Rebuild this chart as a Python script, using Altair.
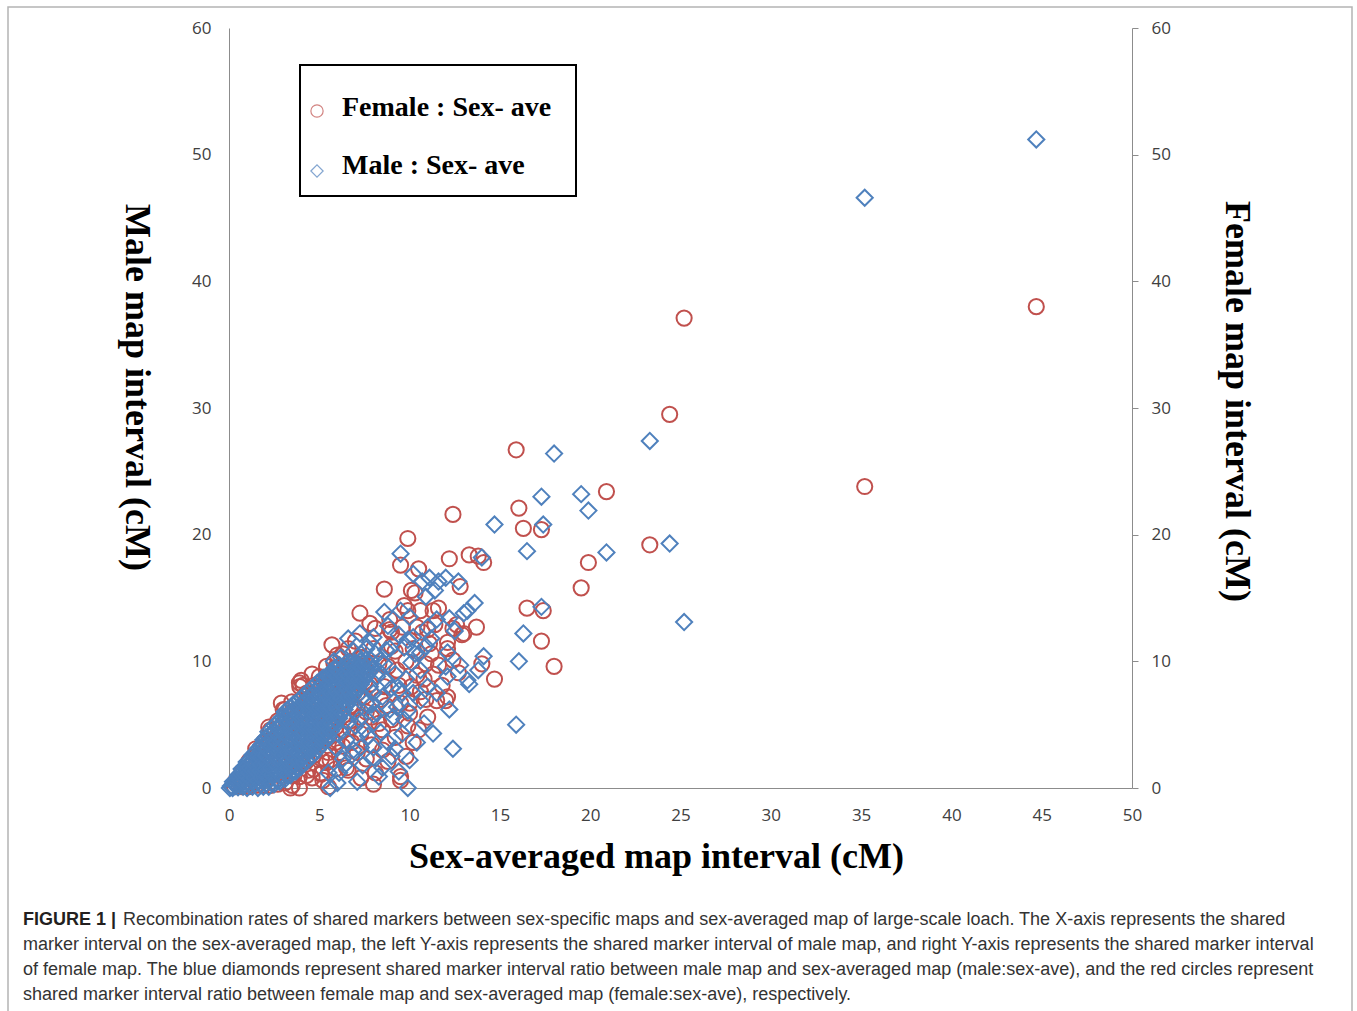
import altair as alt
import pandas as pd

# ---------------- data ----------------
x_ticks = [0, 5, 10, 15, 20, 25, 30, 35, 40, 45, 50]
y_ticks = [0, 10, 20, 30, 40, 50, 60]

series_names = ["Female : Sex- ave", "Male : Sex- ave"]

# Female : Sex-ave  (sex-averaged interval, female interval) - dense core
female_core = [
    (0.3, 0.1), (0.35, 0.5), (0.7, 0.1), (0.68, 0.7), (0.72, 1.3), (1.1, 0.1), (1.08, 0.8), (1.12, 1.5),
    (1.1, 2.1), (1.5, 0.2), (1.48, 0.9), (1.52, 1.7), (1.5, 2.5), (1.48, 3.1), (1.9, 0.2), (1.92, 1.0),
    (1.88, 1.9), (1.9, 2.8), (1.92, 3.6), (2.3, 0.2), (2.28, 1.1), (2.32, 2.0), (2.3, 2.9), (2.28, 3.8),
    (2.3, 4.6), (2.7, 0.3), (2.72, 1.2), (2.68, 2.2), (2.7, 3.2), (2.72, 4.2), (2.7, 5.3), (3.1, 0.4),
    (3.08, 1.4), (3.12, 2.4), (3.1, 3.4), (3.08, 4.4), (3.12, 5.4), (3.1, 6.2), (3.5, 0.2), (3.48, 1.0),
    (3.52, 2.0), (3.5, 3.0), (3.48, 4.0), (3.52, 5.0), (3.5, 6.0), (3.48, 6.8), (3.9, 0.9), (3.92, 1.9),
    (3.88, 2.9), (3.9, 3.9), (3.92, 4.9), (3.88, 5.9), (3.9, 6.9), (3.92, 8.0), (4.3, 1.0), (4.28, 2.1),
    (4.32, 3.2), (4.3, 4.3), (4.28, 5.4), (4.32, 6.5), (4.3, 7.5), (4.7, 1.5), (4.72, 2.6), (4.68, 3.7),
    (4.7, 4.8), (4.72, 5.9), (4.68, 7.0), (4.7, 8.1), (5.1, 1.1), (5.12, 2.3), (5.08, 3.5), (5.1, 4.7),
    (5.12, 5.9), (5.08, 7.1), (5.1, 8.3), (5.5, 2.8), (5.52, 4.0), (5.48, 5.2), (5.5, 6.4), (5.52, 7.6),
    (5.48, 8.8), (5.9, 3.6), (5.92, 4.8), (5.88, 6.0), (5.9, 7.2), (5.92, 8.4), (5.88, 9.5), (6.3, 4.5),
    (6.32, 5.7), (6.28, 6.9), (6.3, 8.1), (6.32, 9.2), (6.7, 5.3), (6.72, 6.5), (6.68, 7.7), (6.7, 8.9),
    (6.72, 10.0), (7.1, 6.3), (7.12, 7.5), (7.08, 8.7), (7.1, 9.8), (7.5, 7.2), (7.52, 8.4), (7.48, 9.6),
]
# Female : Sex-ave - spread and outliers
female_spread = [
    (44.7, 38.0), (35.2, 23.8), (25.2, 37.1), (24.4, 29.5), (23.3, 19.2), (20.9, 23.4), (19.9, 17.8),
    (19.5, 15.8), (18.0, 9.6), (17.3, 11.6), (17.4, 14.0), (17.3, 20.4), (15.9, 26.7), (16.05, 22.1),
    (16.3, 20.5), (16.5, 14.2), (14.7, 8.6), (12.4, 21.6), (12.2, 18.1), (13.3, 18.4), (13.8, 18.3),
    (14.1, 17.8), (14.0, 9.8), (13.7, 12.7), (13.0, 12.2), (12.8, 15.9), (12.7, 9.1), (9.9, 19.7),
    (9.5, 17.6), (10.5, 17.3), (8.6, 15.7), (10.1, 15.6), (10.3, 15.4), (9.7, 14.4), (9.9, 14.0),
    (10.6, 14.0), (11.3, 14.0), (11.6, 14.2), (12.4, 12.6), (12.6, 12.9), (11.4, 12.9), (10.7, 12.3),
    (12.1, 11.5), (12.9, 12.1), (8.9, 12.5), (7.25, 13.8), (5.7, 11.3), (6.3, 10.6), (8.1, 12.6),
    (9.0, 12.3), (9.6, 12.7), (10.4, 12.7), (11.1, 11.4), (12.1, 11.0), (12.4, 10.1), (11.8, 8.1),
    (11.5, 6.9), (12.0, 6.9), (12.1, 7.2), (10.4, 8.9), (10.0, 6.7), (10.2, 3.6), (11.0, 5.6), (8.5, 3.0),
    (9.5, 0.6), (9.5, 0.9), (6.5, 1.6), (6.6, 1.4), (7.1, 2.8), (5.4, 2.0), (4.6, 0.8), (3.4, 0.0),
    (3.9, 0.0), (7.3, 4.3), (8.5, 4.6), (9.5, 6.7), (8.6, 8.0), (7.3, 10.3), (7.6, 6.0), (6.9, 6.4),
    (5.8, 8.1), (5.0, 8.8), (4.1, 8.1), (3.0, 6.2), (3.9, 8.3), (4.0, 8.5), (2.9, 6.7), (2.2, 4.8),
    (5.1, 1.2), (5.5, 0.1), (5.8, 9.9), (7.4, 10.3), (9.3, 9.3), (8.3, 5.1), (7.3, 5.6), (6.1, 2.8),
    (5.6, 2.2), (10.0, 5.9), (11.0, 12.5), (6.8, 9.0), (7.8, 8.2), (8.0, 11.0), (8.8, 9.6), (9.2, 10.8),
    (7.0, 11.6), (6.2, 7.4), (8.4, 7.0), (9.8, 10.0), (10.9, 9.8), (11.2, 10.6), (9.0, 5.4), (7.9, 3.4),
    (6.8, 3.6), (10.6, 7.6), (11.3, 9.0),
    (5.2, 0.6), (5.9, 1.5), (6.3, 3.3), (6.7, 4.7), (7.6, 2.3), (8.1, 1.2), (8.8, 2.1), (9.2, 4.0),
    (9.9, 4.9), (10.5, 4.6), (7.9, 5.6), (8.7, 6.5), (9.4, 8.1), (10.1, 8.0), (10.8, 8.6), (7.1, 7.9),
    (7.6, 9.1), (8.3, 9.8), (9.0, 11.2), (6.6, 11.0), (6.0, 10.5), (5.4, 9.6), (4.6, 9.0), (6.5, 9.4),
    (8.9, 13.3), (7.8, 13.0), (10.2, 11.0), (11.6, 9.7), (10.9, 7.0), (6.0, 5.6), (5.3, 3.9), (4.4, 1.4),
    (3.6, 1.0), (7.3, 0.8), (8.0, 0.3), (9.8, 2.5),
]

# Male : Sex-ave  (sex-averaged interval, male interval) - dense core
male_core = [
    (0.05, 0.0), (0.1, 0.15),
    (0.2, 0.0), (0.28, 0.3), (0.22, 0.5),
    (0.5, 0.05), (0.45, 0.4), (0.55, 0.75), (0.5, 1.0),
    (0.78, 0.1), (0.72, 0.5), (0.8, 0.9), (0.75, 1.25), (0.7, 1.5),
    (1.0, 0.0), (1.05, 0.45), (0.95, 0.95), (1.02, 1.4), (1.0, 1.8), (0.98, 2.05),
    (1.3, 0.1), (1.25, 0.6), (1.35, 1.1), (1.28, 1.6), (1.32, 2.1), (1.3, 2.6),
    (1.6, 0.0), (1.65, 0.5), (1.55, 1.05), (1.62, 1.6), (1.58, 2.1), (1.6, 2.65), (1.62, 3.15),
    (1.9, 0.1), (1.85, 0.6), (1.95, 1.2), (1.88, 1.7), (1.92, 2.3), (1.9, 2.8), (1.86, 3.3), (1.9, 3.8),
    (2.2, 0.1), (2.25, 0.7), (2.15, 1.3), (2.22, 1.9), (2.18, 2.45), (2.2, 3.0), (2.24, 3.6), (2.2, 4.1), (2.18, 4.45),
    (2.5, 0.3), (2.45, 0.9), (2.55, 1.5), (2.48, 2.1), (2.52, 2.7), (2.5, 3.3), (2.46, 3.9), (2.52, 4.45), (2.5, 4.95),
    (2.8, 0.5), (2.85, 1.1), (2.75, 1.7), (2.82, 2.3), (2.78, 2.9), (2.8, 3.5), (2.84, 4.1), (2.78, 4.7), (2.8, 5.3),
    (3.1, 0.7), (3.05, 1.3), (3.15, 1.9), (3.08, 2.5), (3.12, 3.1), (3.1, 3.7), (3.06, 4.3), (3.12, 4.9), (3.1, 5.5), (3.08, 6.0),
    (3.4, 1.0), (3.45, 1.6), (3.35, 2.2), (3.42, 2.8), (3.38, 3.4), (3.4, 4.0), (3.44, 4.6), (3.38, 5.2), (3.4, 5.8), (3.42, 6.4),
    (3.7, 1.3), (3.65, 1.9), (3.75, 2.5), (3.68, 3.1), (3.72, 3.7), (3.7, 4.3), (3.66, 4.9), (3.72, 5.5), (3.7, 6.1), (3.68, 6.7),
    (4.0, 1.7), (4.05, 2.3), (3.95, 2.9), (4.02, 3.5), (3.98, 4.1), (4.0, 4.7), (4.04, 5.3), (3.98, 5.9), (4.0, 6.5), (4.02, 7.1),
    (4.3, 2.1), (4.25, 2.7), (4.35, 3.3), (4.28, 3.9), (4.32, 4.5), (4.3, 5.1), (4.26, 5.7), (4.32, 6.3), (4.3, 6.9), (4.28, 7.5),
    (4.6, 2.5), (4.65, 3.1), (4.55, 3.7), (4.62, 4.3), (4.58, 4.9), (4.6, 5.5), (4.64, 6.1), (4.58, 6.7), (4.6, 7.3), (4.62, 7.9),
    (4.9, 3.0), (4.85, 3.6), (4.95, 4.2), (4.88, 4.8), (4.92, 5.4), (4.9, 6.0), (4.86, 6.6), (4.92, 7.2), (4.9, 7.8), (4.88, 8.3),
    (5.2, 3.5), (5.25, 4.1), (5.15, 4.7), (5.22, 5.3), (5.18, 5.9), (5.2, 6.5), (5.24, 7.1), (5.18, 7.7), (5.2, 8.3), (5.22, 8.7),
    (5.5, 4.1), (5.45, 4.7), (5.55, 5.3), (5.48, 5.9), (5.52, 6.5), (5.5, 7.1), (5.46, 7.7), (5.52, 8.3), (5.5, 8.9),
    (5.8, 4.8), (5.85, 5.4), (5.75, 6.0), (5.82, 6.6), (5.78, 7.2), (5.8, 7.8), (5.84, 8.4), (5.78, 9.0), (5.8, 9.4),
    (6.1, 5.5), (6.05, 6.1), (6.15, 6.7), (6.08, 7.3), (6.12, 7.9), (6.1, 8.5), (6.06, 9.1), (6.12, 9.7),
    (6.4, 6.2), (6.45, 6.8), (6.35, 7.4), (6.42, 8.0), (6.38, 8.6), (6.4, 9.2), (6.44, 9.8),
    (6.7, 6.9), (6.65, 7.5), (6.75, 8.1), (6.68, 8.7), (6.72, 9.3), (6.7, 9.9),
    (7.0, 7.5), (7.05, 8.1), (6.95, 8.7), (7.02, 9.3), (6.98, 9.9),
    (7.3, 8.2), (7.25, 8.8), (7.35, 9.4), (7.28, 10.0),
    (7.6, 8.8), (7.65, 9.5), (7.55, 10.1),
    (7.9, 9.4), (7.85, 10.1),
]
# Male : Sex-ave - more of the dense core, between the points above
male_core_b = [
    (0.18, 0.1), (0.38, 0.15), (0.4, 0.6), (0.62, 0.2), (0.62, 0.6), (0.65, 1.1), (0.88, 0.3), (0.9, 0.7),
    (0.86, 1.1), (0.9, 1.6), (1.15, 0.2), (1.18, 0.75), (1.12, 1.2), (1.16, 1.6), (1.15, 2.2), (1.45, 0.35),
    (1.42, 0.85), (1.48, 1.35), (1.44, 1.85), (1.46, 2.35), (1.45, 2.8), (1.75, 0.3), (1.78, 0.8), (1.72, 1.35),
    (1.76, 1.85), (1.74, 2.4), (1.75, 2.9), (1.78, 3.4), (2.05, 0.35), (2.08, 0.9), (2.02, 1.45), (2.06, 2.0),
    (2.04, 2.55), (2.05, 3.05), (2.08, 3.55), (2.04, 4.0), (2.35, 0.4), (2.38, 1.0), (2.32, 1.6), (2.36, 2.2),
    (2.34, 2.75), (2.35, 3.3), (2.38, 3.85), (2.34, 4.35), (2.65, 0.6), (2.68, 1.2), (2.62, 1.8), (2.66, 2.4),
    (2.64, 3.0), (2.65, 3.6), (2.68, 4.2), (2.64, 4.75), (2.66, 5.1), (2.95, 0.8), (2.98, 1.4), (2.92, 2.0),
    (2.96, 2.6), (2.94, 3.2), (2.95, 3.8), (2.98, 4.4), (2.94, 5.0), (2.96, 5.6), (3.25, 1.0), (3.28, 1.6),
    (3.22, 2.2), (3.26, 2.8), (3.24, 3.4), (3.25, 4.0), (3.28, 4.6), (3.24, 5.2), (3.26, 5.8), (3.25, 6.2),
    (3.55, 1.3), (3.58, 1.9), (3.52, 2.5), (3.56, 3.1), (3.54, 3.7), (3.55, 4.3), (3.58, 4.9), (3.54, 5.5),
    (3.56, 6.1), (3.55, 6.6), (3.85, 1.6), (3.88, 2.2), (3.82, 2.8), (3.86, 3.4), (3.84, 4.0), (3.85, 4.6),
    (3.88, 5.2), (3.84, 5.8), (3.86, 6.4), (3.85, 6.9), (4.15, 2.0), (4.18, 2.6), (4.12, 3.2), (4.16, 3.8),
    (4.14, 4.4), (4.15, 5.0), (4.18, 5.6), (4.14, 6.2), (4.16, 6.8), (4.15, 7.3), (4.45, 2.4), (4.48, 3.0),
    (4.42, 3.6), (4.46, 4.2), (4.44, 4.8), (4.45, 5.4), (4.48, 6.0), (4.44, 6.6), (4.46, 7.2), (4.45, 7.7),
    (4.75, 2.8), (4.78, 3.4), (4.72, 4.0), (4.76, 4.6), (4.74, 5.2), (4.75, 5.8), (4.78, 6.4), (4.74, 7.0),
    (4.76, 7.6), (4.75, 8.1), (5.05, 3.3), (5.08, 3.9), (5.02, 4.5), (5.06, 5.1), (5.04, 5.7), (5.05, 6.3),
    (5.08, 6.9), (5.04, 7.5), (5.06, 8.1), (5.05, 8.5), (5.35, 3.8), (5.38, 4.4), (5.32, 5.0), (5.36, 5.6),
    (5.34, 6.2), (5.35, 6.8), (5.38, 7.4), (5.34, 8.0), (5.36, 8.6), (5.65, 4.5), (5.68, 5.1), (5.62, 5.7),
    (5.66, 6.3), (5.64, 6.9), (5.65, 7.5), (5.68, 8.1), (5.64, 8.7), (5.66, 9.2), (5.95, 5.2), (5.98, 5.8),
    (5.92, 6.4), (5.96, 7.0), (5.94, 7.6), (5.95, 8.2), (5.98, 8.8), (5.94, 9.4), (6.25, 5.9), (6.28, 6.5),
    (6.22, 7.1), (6.26, 7.7), (6.24, 8.3), (6.25, 8.9), (6.28, 9.5), (6.55, 6.6), (6.58, 7.2), (6.52, 7.8),
    (6.56, 8.4), (6.54, 9.0), (6.55, 9.6), (6.85, 7.2), (6.88, 7.8), (6.82, 8.4), (6.86, 9.0), (6.84, 9.6),
    (7.15, 7.9), (7.18, 8.5), (7.12, 9.1), (7.16, 9.7), (7.45, 8.5), (7.48, 9.1), (7.42, 9.8), (7.75, 9.1),
    (7.78, 9.8),
]
# Male : Sex-ave - spread and outliers
male_spread = [
    (44.7, 51.2), (35.2, 46.6), (25.2, 13.1), (24.4, 19.3), (23.3, 27.4), (20.9, 18.6), (19.9, 21.9),
    (19.5, 23.2), (18.0, 26.4), (17.3, 23.0), (17.4, 20.8), (17.3, 14.3), (15.9, 5.0), (16.05, 10.0),
    (16.3, 12.2), (16.5, 18.7), (14.7, 20.8), (12.4, 3.1), (12.2, 6.2), (13.3, 8.2), (13.8, 9.3),
    (14.1, 10.4), (14.0, 18.2), (13.6, 14.6), (13.0, 13.8), (12.8, 9.7), (12.7, 16.3), (9.5, 18.5),
    (10.2, 16.9), (10.7, 16.3), (11.1, 16.6), (11.6, 16.3), (12.0, 16.6), (10.9, 15.1), (8.6, 13.9),
    (13.2, 14.0), (12.2, 13.4), (10.2, 11.9), (6.6, 11.8), (7.25, 12.2), (7.8, 11.5), (8.0, 11.9),
    (8.9, 11.0), (9.7, 11.1), (9.9, 11.7), (10.6, 10.7), (11.2, 11.8), (12.0, 9.6), (11.0, 8.0),
    (10.6, 9.3), (10.2, 7.5), (9.7, 5.4), (10.4, 3.6), (8.5, 1.6), (9.4, 1.3), (9.9, 0.0), (7.1, 0.5),
    (5.6, 0.0), (6.1, 1.2), (11.3, 4.3), (12.1, 8.8), (12.1, 10.7), (13.2, 8.5), (9.5, 14.0), (10.0, 13.5),
    (8.0, 2.4), (9.1, 5.6), (8.0, 5.8), (9.6, 7.5), (6.5, 3.8), (7.3, 3.2), (8.2, 5.9), (9.6, 4.3),
    (10.6, 6.9), (9.3, 6.4), (8.0, 7.5), (8.7, 8.5), (9.4, 7.7), (8.4, 10.1), (9.2, 9.0), (10.1, 9.9),
    (11.5, 13.3), (12.5, 12.4), (11.0, 12.7), (8.8, 12.8), (7.3, 10.6), (7.0, 4.9), (6.3, 2.3), (8.8, 3.6),
    (7.6, 6.7), (11.4, 15.6), (8.3, 9.2), (7.7, 4.1), (6.8, 2.6),
    (5.9, 3.2), (6.2, 4.4), (6.6, 5.2), (7.0, 6.0), (7.4, 7.2), (7.8, 8.0), (8.2, 8.8), (8.6, 9.8),
    (6.4, 1.8), (6.9, 3.0), (7.5, 4.6), (8.0, 3.2), (8.4, 4.4), (8.9, 6.2), (9.0, 7.9), (9.8, 8.6),
    (10.3, 10.6), (8.1, 10.6), (7.6, 11.0), (6.9, 10.8), (6.2, 10.3), (5.8, 10.0), (7.2, 5.4), (7.9, 6.6),
    (8.5, 7.2), (9.9, 6.1), (10.8, 5.1), (9.2, 3.1), (5.5, 1.2), (6.0, 0.4), (7.4, 1.8), (8.3, 0.9),
    (9.0, 2.5), (10.0, 2.2), (11.5, 7.5), (10.9, 11.2), (8.7, 10.9), (9.4, 12.1),
]

caption_bold = "FIGURE 1 |"
caption_lines = [
    "Recombination rates of shared markers between sex-specific maps and sex-averaged map of large-scale loach. The X-axis represents the shared",
    "marker interval on the sex-averaged map, the left Y-axis represents the shared marker interval of male map, and right Y-axis represents the shared marker interval",
    "of female map. The blue diamonds represent shared marker interval ratio between male map and sex-averaged map (male:sex-ave), and the red circles represent",
    "shared marker interval ratio between female map and sex-averaged map (female:sex-ave), respectively.",
]

# ---------------- build ----------------
RED = "#C0504D"
BLUE = "#4F81BD"
AXIS_GREY = "#8c8c8c"
W, H = 903, 760

female_pts = female_core + female_spread
male_pts = male_core + male_core_b + male_spread
fem_df = pd.DataFrame({"sexave": [p[0] for p in female_pts], "female": [p[1] for p in female_pts]})
male_df = pd.DataFrame({"sexave": [p[0] for p in male_pts], "male": [p[1] for p in male_pts]})

xs = alt.Scale(domain=[0, 50], nice=False)
x_axis = alt.Axis(
    values=x_ticks, grid=False, ticks=False, tickSize=0, labelPadding=19, labelFlush=False,
    domainColor=AXIS_GREY, domainWidth=1,
    labelFont="Open Sans", labelFontSize=17, labelColor="#404040",
    title="Sex-averaged map interval (cM)", titleFont="Liberation Serif", titleFontWeight="bold",
    titleFontSize=36, titleColor="#000000", titleX=427, titleY=79, titleAlign="center",
    titleBaseline="alphabetic",
)

female_layer = alt.Chart(fem_df).mark_point(
    shape="circle", filled=False, size=230, strokeWidth=2, color=RED, opacity=1
).encode(
    x=alt.X("sexave:Q", scale=xs, axis=x_axis),
    y=alt.Y("female:Q", scale=alt.Scale(domain=[0, 60], nice=False), axis=alt.Axis(
        orient="right", values=y_ticks, grid=False, ticks=True, tickSize=6, tickColor=AXIS_GREY,
        labelPadding=13, labelFlush=False, domainColor=AXIS_GREY,
        labelFont="Open Sans", labelFontSize=17, labelColor="#404040",
        title="Female map interval (cM)", titleFont="Liberation Serif", titleFontWeight="bold",
        titleFontSize=36, titleColor="#000000", titleAngle=90, titleX=93, titleY=373,
        titleAlign="center", titleBaseline="alphabetic",
    )),
)

male_layer = alt.Chart(male_df).mark_point(
    shape="diamond", filled=False, size=260, strokeWidth=2, color=BLUE, opacity=1
).encode(
    x=alt.X("sexave:Q", scale=xs, axis=x_axis),
    y=alt.Y("male:Q", scale=alt.Scale(domain=[0, 60], nice=False), axis=alt.Axis(
        orient="left", values=y_ticks, grid=False, ticks=False, tickSize=0,
        labelPadding=18, labelFlush=False, domainColor=AXIS_GREY,
        labelFont="Open Sans", labelFontSize=17, labelColor="#404040",
        title="Male map interval (cM)", titleFont="Liberation Serif", titleFontWeight="bold",
        titleFontSize=36, titleColor="#000000", titleAngle=90, titleX=-104, titleY=359,
        titleAlign="center", titleBaseline="alphabetic",
    )),
)

one = alt.Data(values=[{"k": 1}])

legend_box = alt.Chart(one).mark_rect(fillOpacity=0, stroke="#000000", strokeWidth=2).encode(
    x=alt.value(71), x2=alt.value(347), y=alt.value(37), y2=alt.value(168)
)
legend_f_sym = alt.Chart(one).mark_point(shape="circle", filled=False, size=150, strokeWidth=1.2, color=RED).encode(
    x=alt.value(88), y=alt.value(83)
)
legend_m_sym = alt.Chart(one).mark_point(shape="diamond", filled=False, size=150, strokeWidth=1.2, color=BLUE).encode(
    x=alt.value(88), y=alt.value(143)
)
legend_f_txt = alt.Chart(one).mark_text(
    text=series_names[0], font="Liberation Serif", fontWeight="bold", fontSize=28, align="left",
    baseline="alphabetic", color="#000000"
).encode(x=alt.value(113), y=alt.value(88))
legend_m_txt = alt.Chart(one).mark_text(
    text=series_names[1], font="Liberation Serif", fontWeight="bold", fontSize=28, align="left",
    baseline="alphabetic", color="#000000"
).encode(x=alt.value(113), y=alt.value(146))

frame = alt.Chart(one).mark_rect(fillOpacity=0, stroke="#b4b4b4", strokeWidth=1.5).encode(
    x=alt.value(-221), x2=alt.value(1123), y=alt.value(-21), y2=alt.value(1000)
)

cap_layers = [
    alt.Chart(one).mark_text(
        text=caption_bold, font="Liberation Sans", fontWeight="bold", fontSize=18, align="left",
        baseline="alphabetic", color="#231f20"
    ).encode(x=alt.value(-206), y=alt.value(897))
]
cap_x = [-106, -206, -206, -206]
for i, line in enumerate(caption_lines):
    cap_layers.append(
        alt.Chart(one).mark_text(
            text=line, font="Liberation Sans", fontSize=18, align="left", baseline="alphabetic",
            color="#333333"
        ).encode(x=alt.value(cap_x[i]), y=alt.value(897 + 25 * i))
    )

chart = alt.layer(
    frame, female_layer, male_layer, legend_box, legend_f_sym, legend_m_sym, legend_f_txt, legend_m_txt,
    *cap_layers
).resolve_scale(y="independent").properties(
    width=W, height=H,
    autosize=alt.AutoSizeParams(type="none"),
    padding={"left": 229, "top": 28, "right": 225, "bottom": 223},
    background="#ffffff",
).configure_view(stroke=None)

chart.save("out.html", embed_options={"renderer": "svg", "actions": False})
